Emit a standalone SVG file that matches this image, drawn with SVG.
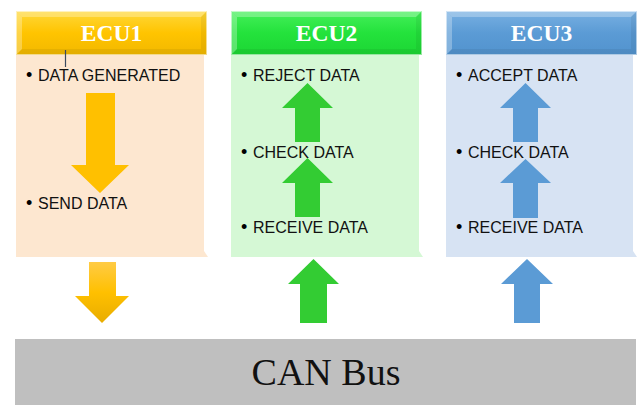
<svg xmlns="http://www.w3.org/2000/svg" width="638" height="405" viewBox="0 0 638 405">
  <defs>
    <linearGradient id="hdrGold" x1="0" y1="0" x2="0" y2="1">
      <stop offset="0" stop-color="#FFD83A"/>
      <stop offset="0.5" stop-color="#FFC400"/>
      <stop offset="1" stop-color="#F2B800"/>
    </linearGradient>
    <linearGradient id="hdrGreen" x1="0" y1="0" x2="0" y2="1">
      <stop offset="0" stop-color="#45F05A"/>
      <stop offset="0.5" stop-color="#24E23C"/>
      <stop offset="1" stop-color="#1CD634"/>
    </linearGradient>
    <linearGradient id="hdrBlue" x1="0" y1="0" x2="0" y2="1">
      <stop offset="0" stop-color="#78B0E2"/>
      <stop offset="0.5" stop-color="#5B9BD5"/>
      <stop offset="1" stop-color="#5293CE"/>
    </linearGradient>
    <linearGradient id="arrowGold" x1="0" y1="0" x2="0" y2="1">
      <stop offset="0" stop-color="#FFCB45"/>
      <stop offset="0.5" stop-color="#FFC000"/>
      <stop offset="1" stop-color="#E8AC00"/>
    </linearGradient>
    <style>
      .hdr-text { font-family: "Liberation Serif", "Times New Roman", serif; font-weight: bold; font-size: 23.5px; fill: #FFFFFF; text-anchor: middle; }
      .item { font-family: "Liberation Sans", Arial, sans-serif; font-size: 16px; fill: #111111; }
      .bullet { font-family: "Liberation Sans", Arial, sans-serif; font-size: 18px; fill: #000000; }
      .bevel-hi { fill: #FFFFFF; opacity: 0.28; }
      .bevel-lo { fill: #000000; opacity: 0.06; }
      .edge { fill: none; stroke: #FFFFFF; stroke-opacity: 0.55; stroke-width: 1; }
      .bus-text { font-family: "Liberation Serif", "Times New Roman", serif; font-size: 38px; fill: #111111; text-anchor: middle; }
    </style>
  </defs>

  <rect width="638" height="405" fill="#FFFFFF"/>

  <!-- ECU1 -->
  <g id="ecu1">
    <polygon points="16,55 204,55 204,251 208,257 16,257" fill="#FDE7D0"/>
    <rect x="16" y="11" width="191" height="44" fill="url(#hdrGold)"/>
    <polygon class="bevel-hi" points="16,11 207,11 201,17 22,17"/>
    <polygon class="bevel-hi" points="16,11 22,17 22,49 16,55"/>
    <polygon class="bevel-lo" points="16,55 22,49 201,49 207,55"/>
    <polygon class="bevel-lo" points="207,11 207,55 201,49 201,17"/>
    <rect class="edge" x="16.5" y="11.5" width="190" height="43"/>
    <text class="hdr-text" x="111.5" y="41">ECU1</text>
    <text class="bullet" x="26" y="81">•</text>
    <text class="item" x="38" y="81">DATA GENERATED</text>
    <text class="bullet" x="26" y="209">•</text>
    <text class="item" x="38" y="209">SEND DATA</text>
    <polygon points="86,93 115,93 115,165 129,165 100,193 71,165 86,165" fill="#FFC000"/>
    <line x1="65.5" y1="50" x2="65.5" y2="67" stroke="#3A4A60" stroke-width="1.2"/>
  </g>

  <!-- ECU2 -->
  <g id="ecu2">
    <polygon points="231,55 419,55 419,251 423,257 231,257" fill="#D5F8D5"/>
    <rect x="231" y="11" width="191" height="44" fill="url(#hdrGreen)"/>
    <polygon class="bevel-hi" points="231,11 422,11 416,17 237,17"/>
    <polygon class="bevel-hi" points="231,11 237,17 237,49 231,55"/>
    <polygon class="bevel-lo" points="231,55 237,49 416,49 422,55"/>
    <polygon class="bevel-lo" points="422,11 422,55 416,49 416,17"/>
    <rect class="edge" x="231.5" y="11.5" width="190" height="43"/>
    <text class="hdr-text" x="326.5" y="41">ECU2</text>
    <text class="bullet" x="241" y="81">•</text>
    <text class="item" x="253" y="81">REJECT DATA</text>
    <text class="bullet" x="241" y="158">•</text>
    <text class="item" x="253" y="158">CHECK DATA</text>
    <text class="bullet" x="241" y="233">•</text>
    <text class="item" x="253" y="233">RECEIVE DATA</text>
    <polygon points="307.5,83 333,108 320,108 320,142 295,142 295,108 282,108" fill="#33CC33"/>
    <polygon points="307.5,158 333,183 320,183 320,217 295,217 295,183 282,183" fill="#33CC33"/>
  </g>

  <!-- ECU3 -->
  <g id="ecu3">
    <polygon points="446,55 633,55 633,251 637,257 446,257" fill="#D7E3F3"/>
    <rect x="446" y="11" width="191" height="44" fill="url(#hdrBlue)"/>
    <polygon class="bevel-hi" points="446,11 637,11 631,17 452,17"/>
    <polygon class="bevel-hi" points="446,11 452,17 452,49 446,55"/>
    <polygon class="bevel-lo" points="446,55 452,49 631,49 637,55"/>
    <polygon class="bevel-lo" points="637,11 637,55 631,49 631,17"/>
    <rect class="edge" x="446.5" y="11.5" width="190" height="43"/>
    <text class="hdr-text" x="541.5" y="41">ECU3</text>
    <text class="bullet" x="456" y="81">•</text>
    <text class="item" x="468" y="81">ACCEPT DATA</text>
    <text class="bullet" x="456" y="158">•</text>
    <text class="item" x="468" y="158">CHECK DATA</text>
    <text class="bullet" x="456" y="233">•</text>
    <text class="item" x="468" y="233">RECEIVE DATA</text>
    <polygon points="525.5,83 551,108 538,108 538,142 513,142 513,108 500,108" fill="#5B9BD5"/>
    <polygon points="525.5,159 551,183 538,183 538,218 513,218 513,183 500,183" fill="#5B9BD5"/>
  </g>

  <!-- CAN bus -->
  <g id="can-bus">
    <rect x="15" y="339" width="621" height="66" fill="#BFBFBF"/>
    <text class="bus-text" x="326" y="385">CAN Bus</text>
  </g>

  <!-- Links between ECUs and the bus -->
  <g id="connectors">
    <polygon points="89,262 116,262 116,296 129,296 102,323 75,296 89,296" fill="url(#arrowGold)"/>
    <polygon points="313.5,259 339,284 327,284 327,323 300,323 300,284 288,284" fill="#33CC33"/>
    <polygon points="527,259 553,284 540,284 540,323 514,323 514,284 501,284" fill="#5B9BD5"/>
  </g>
</svg>
